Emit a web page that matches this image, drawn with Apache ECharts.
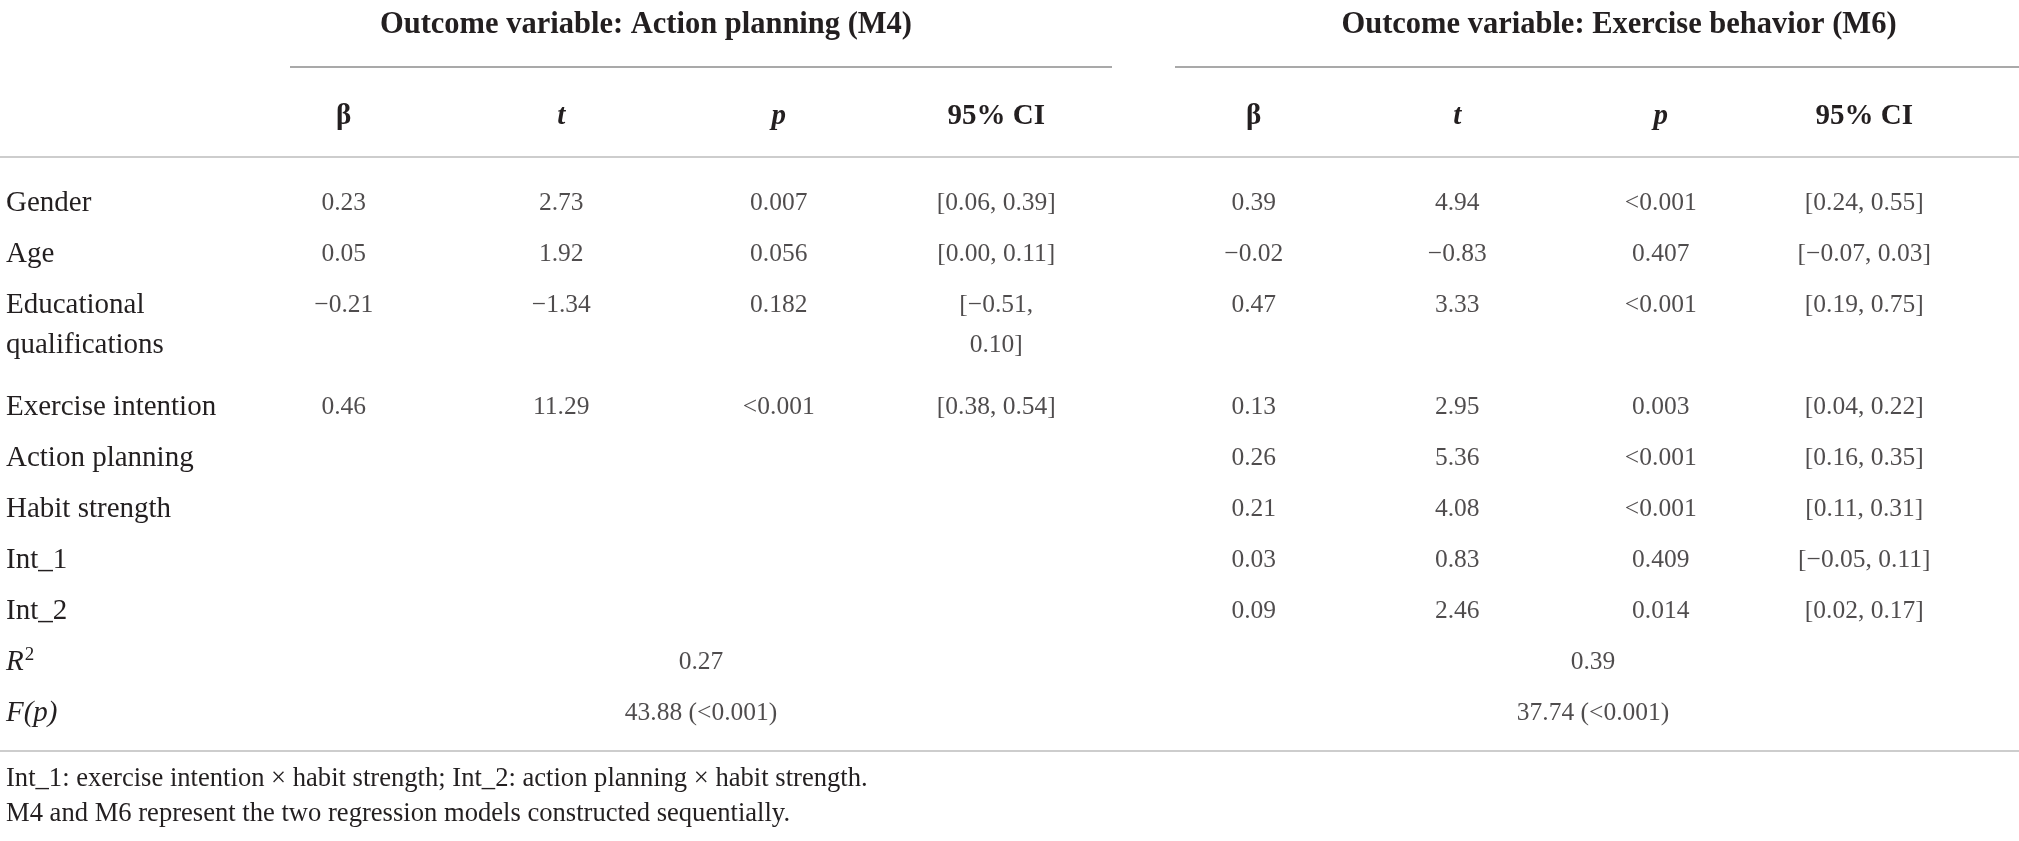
<!DOCTYPE html>
<html>
<head>
<meta charset="utf-8">
<script src="https://cdn.jsdelivr.net/npm/echarts@6/dist/echarts.min.js"></script>
<style>
html,body{margin:0;padding:0;background:#fff;}
#chart{width:2019px;height:841px;}
</style>
</head>
<body>
<div id="chart"></div>
<script>
// ---- table content ----
const rowLabels = ['Gender', 'Age', 'Educational', 'qualifications', 'Exercise intention',
  'Action planning', 'Habit strength', 'Int_1', 'Int_2', 'R2', 'F(p)'];
const continuationRows = ['qualifications'];
const colHeaders = ['β', 't', 'p', '95% CI'];
const groupTitles = ['Outcome variable: Action planning (M4)', 'Outcome variable: Exercise behavior (M6)'];
const summaryCols = ['M4', 'M6'];

const m4Beta = ['0.23', '0.05', '−0.21', '', '0.46'];
const m4T    = ['2.73', '1.92', '−1.34', '', '11.29'];
const m4P    = ['0.007', '0.056', '0.182', '', '<0.001'];
const m4CI   = ['[0.06, 0.39]', '[0.00, 0.11]', '[−0.51,', '0.10]', '[0.38, 0.54]'];

const m6Beta = ['0.39', '−0.02', '0.47', '', '0.13', '0.26', '0.21', '0.03', '0.09'];
const m6T    = ['4.94', '−0.83', '3.33', '', '2.95', '5.36', '4.08', '0.83', '2.46'];
const m6P    = ['<0.001', '0.407', '<0.001', '', '0.003', '<0.001', '<0.001', '0.409', '0.014'];
const m6CI   = ['[0.24, 0.55]', '[−0.07, 0.03]', '[0.19, 0.75]', '', '[0.04, 0.22]',
  '[0.16, 0.35]', '[0.11, 0.31]', '[−0.05, 0.11]', '[0.02, 0.17]'];

const rSquared = ['0.27', '0.39'];
const fStat = ['43.88 (<0.001)', '37.74 (<0.001)'];

const footnotes = ['Int_1: exercise intention × habit strength; Int_2: action planning × habit strength.',
  'M4 and M6 represent the two regression models constructed sequentially.'];

// ---- build ----
const FONT = '"Liberation Serif", "Times New Roman", serif';
const INK = '#231f20';
const FS_LABEL = 29;
const FS_NUM = 25.5;
const CONT_SHIFT = -11;
const LEFT_GRID = 235;
const LABEL_X = 6;

function isCont(ri) { return continuationRows.indexOf(rowLabels[ri]) >= 0; }
function cells(cols) {
  const out = [];
  cols.forEach((arr, ci) => arr.forEach((v, ri) => {
    if (!v) return;
    const item = { value: [ci, ri, v] };
    if (isCont(ri)) item.label = { offset: [0, CONT_SHIFT] };
    out.push(item);
  }));
  return out;
}
const leftData = cells([m4Beta, m4T, m4P, m4CI]);
const rightData = cells([m6Beta, m6T, m6P, m6CI]);
const rIdx = rowLabels.indexOf('R2');
const fIdx = rowLabels.indexOf('F(p)');
const sumLeft = [[0, rIdx, rSquared[0]], [0, fIdx, fStat[0]]];
const sumRight = [[0, rIdx, rSquared[1]], [0, fIdx, fStat[1]]];

const GRID_TOP = 177.5, GRID_H = 561;
const grids = [
  { left: LEFT_GRID, width: 870, top: GRID_TOP, height: GRID_H },
  { left: 1152, width: 814, top: GRID_TOP, height: GRID_H },
  { left: 290, width: 822, top: GRID_TOP, height: GRID_H },
  { left: 1172, width: 842, top: GRID_TOP, height: GRID_H }
];

const hidden = { axisLine: { show: false }, axisTick: { show: false }, splitLine: { show: false } };

function xAxisFor(i) {
  return Object.assign({
    type: 'category', gridIndex: i, position: 'top', data: colHeaders,
    axisLabel: {
      margin: 46, interval: 0,
      formatter: v => (v === 't' || v === 'p') ? '{it|' + v + '}' : '{b|' + v + '}',
      rich: {
        b: { fontFamily: FONT, fontSize: 29, fontWeight: 'bold', color: INK },
        it: { fontFamily: FONT, fontSize: 29, fontWeight: 'bold', fontStyle: 'italic', color: INK }
      }
    }
  }, hidden);
}
function xAxisSummary(i, name) {
  return Object.assign({ type: 'category', gridIndex: i, data: [name], axisLabel: { show: false } }, hidden);
}
function yAxisFor(i) {
  return Object.assign({
    type: 'category', gridIndex: i, data: rowLabels, inverse: true,
    axisLabel: i === 0 ? {
      show: true, align: 'left', margin: LEFT_GRID - LABEL_X, interval: 0,
      formatter: v => {
        if (v === 'R2') return '{i|R}{s|2}';
        if (v === 'F(p)') return '{i|F(p)}';
        if (continuationRows.indexOf(v) >= 0) return '{c|' + v + '}';
        return '{n|' + v + '}';
      },
      rich: {
        n: { fontFamily: FONT, fontSize: FS_LABEL, color: INK },
        c: { fontFamily: FONT, fontSize: FS_LABEL, color: INK, padding: [0, 0, -2 * CONT_SHIFT, 0] },
        i: { fontFamily: FONT, fontSize: FS_LABEL, fontStyle: 'italic', color: INK },
        s: { fontFamily: FONT, fontSize: 19, color: INK, verticalAlign: 'top', padding: [0, 0, 14, 1] }
      }
    } : { show: false }
  }, hidden);
}
function seriesFor(i, data) {
  return {
    type: 'scatter', xAxisIndex: i, yAxisIndex: i, data: data, symbolSize: 0,
    silent: true,
    label: {
      show: true, position: 'inside', formatter: p => p.value[2],
      fontFamily: FONT, fontSize: FS_NUM, color: INK
    }
  };
}

const ruleStyle = c => ({ stroke: c, lineWidth: 1.6 });
const chart = echarts.init(document.getElementById('chart'), null, { renderer: 'canvas' });
chart.setOption({
  backgroundColor: '#fff',
  animation: false,
  grid: grids,
  xAxis: [xAxisFor(0), xAxisFor(1), xAxisSummary(2, summaryCols[0]), xAxisSummary(3, summaryCols[1])],
  yAxis: [yAxisFor(0), yAxisFor(1), yAxisFor(2), yAxisFor(3)],
  series: [seriesFor(0, leftData), seriesFor(1, rightData), seriesFor(2, sumLeft), seriesFor(3, sumRight)],
  graphic: [
    { type: 'text', x: 646, y: 25, style: { text: groupTitles[0], font: 'bold 30.5px ' + FONT, fill: INK, textAlign: 'center', textVerticalAlign: 'middle' } },
    { type: 'text', x: 1619, y: 25, style: { text: groupTitles[1], font: 'bold 30.5px ' + FONT, fill: INK, textAlign: 'center', textVerticalAlign: 'middle' } },
    { type: 'line', shape: { x1: 290, y1: 67, x2: 1112, y2: 67 }, style: ruleStyle('#8c8c8c') },
    { type: 'line', shape: { x1: 1175, y1: 67, x2: 2019, y2: 67 }, style: ruleStyle('#8c8c8c') },
    { type: 'line', shape: { x1: 0, y1: 157, x2: 2019, y2: 157 }, style: ruleStyle('#bdbdbd') },
    { type: 'line', shape: { x1: 0, y1: 751, x2: 2019, y2: 751 }, style: ruleStyle('#bdbdbd') },
    { type: 'text', x: 6, y: 779, style: { text: footnotes[0], font: '26.6px ' + FONT, fill: INK, textVerticalAlign: 'middle' } },
    { type: 'text', x: 6, y: 814, style: { text: footnotes[1], font: '26.6px ' + FONT, fill: INK, textVerticalAlign: 'middle' } }
  ]
});
</script>
</body>
</html>
